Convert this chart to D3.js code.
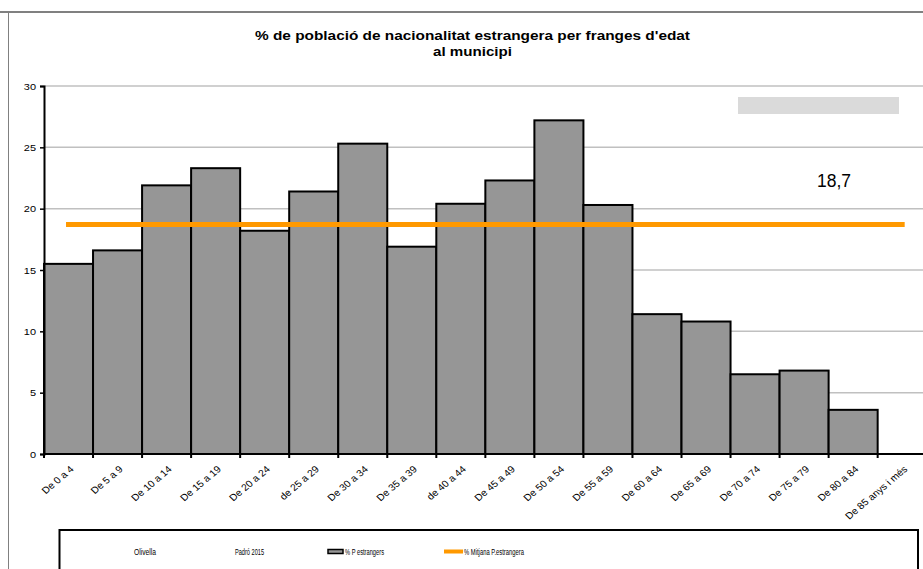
<!DOCTYPE html>
<html>
<head>
<meta charset="utf-8">
<script src="https://cdn.jsdelivr.net/npm/d3@7"></script>
<style>
  html, body { margin: 0; padding: 0; background: #fff; }
  svg { display: block; }
  text { font-family: "Liberation Sans", Arial, sans-serif; fill: #000; }
</style>
</head>
<body>
<svg id="chart" width="923" height="569"></svg>
<script>
const categories = ["De 0 a 4","De 5 a 9","De 10 a 14","De 15 a 19","De 20 a 24","de 25 a 29","De 30 a 34","De 35 a 39","de 40 a 44","De 45 a 49","De 50 a 54","De 55 a 59","De 60 a 64","De 65 a 69","De 70 a 74","De 75 a 79","De 80 a 84","De 85 anys i més"];
const pctEstrangers = [15.5, 16.6, 21.9, 23.3, 18.2, 21.4, 25.3, 16.9, 20.4, 22.3, 27.2, 20.3, 11.4, 10.8, 6.5, 6.8, 3.6, null];
const mitjana = 18.7;
const mitjanaLabel = "18,7";
const yTicks = [0, 5, 10, 15, 20, 25, 30];
const titleLines = ["% de població de nacionalitat estrangera per franges d'edat", "al municipi"];
const legendTexts = ["Olivella", "Padró 2015", "% P estrangers", "% Mitjana P.estrangera"];

const svg = d3.select("#chart");
const W = 923, H = 569;
const plot = {left: 44, right: 926.7, top: 86, bottom: 454};
const SX = 1.18; // horizontal stretch of the original rendering

const x = d3.scaleBand().domain(categories).range([plot.left, plot.right]).paddingInner(0).paddingOuter(0);
const y = d3.scaleLinear().domain([0, 30]).range([plot.bottom, plot.top]);

// outer frame
svg.append("line").attr("x1", 0).attr("x2", W).attr("y1", 12).attr("y2", 12)
  .attr("stroke", "#808080").attr("stroke-width", 2);
svg.append("line").attr("x1", 8.5).attr("x2", 8.5).attr("y1", 12).attr("y2", H)
  .attr("stroke", "#808080").attr("stroke-width", 1);

// title
const title = svg.append("text").attr("text-anchor", "middle")
  .attr("font-weight", "bold").attr("font-size", 13);
title.append("tspan").attr("x", 472.5).attr("y", 39.5).text(titleLines[0])
  .attr("textLength", 435).attr("lengthAdjust", "spacingAndGlyphs");
title.append("tspan").attr("x", 472.5).attr("y", 56).text(titleLines[1])
  .attr("textLength", 79).attr("lengthAdjust", "spacingAndGlyphs");

// gridlines
svg.append("g").selectAll("line").data(yTicks.filter(d => d > 0)).join("line")
  .attr("x1", plot.left).attr("x2", W)
  .attr("y1", d => y(d)).attr("y2", d => y(d))
  .attr("stroke", "#c0c0c0").attr("stroke-width", 1.5);

// grey placeholder box
svg.append("rect").attr("x", 738).attr("y", 97).attr("width", 161).attr("height", 17)
  .attr("fill", "#dadada");

// bars
svg.append("g").selectAll("rect").data(categories.map((c, i) => ({c, v: pctEstrangers[i]})).filter(d => d.v != null))
  .join("rect")
  .attr("x", d => x(d.c)).attr("width", x.bandwidth())
  .attr("y", d => y(d.v)).attr("height", d => y(0) - y(d.v))
  .attr("fill", "#969696").attr("stroke", "#000").attr("stroke-width", 2);

// y axis
const yAxis = svg.append("g").attr("transform", `translate(${plot.left},0)`)
  .call(d3.axisLeft(y).tickValues(yTicks).tickSize(4).tickPadding(0).tickFormat(d3.format("d")));
yAxis.select(".domain").attr("stroke", "#000").attr("stroke-width", 2);
yAxis.selectAll(".tick line").attr("stroke", "#000").attr("stroke-width", 1.5);
yAxis.selectAll(".tick text").remove();
yAxis.selectAll(".tick").append("text")
  .attr("text-anchor", "end").attr("font-size", 9.3).attr("dy", "0.35em")
  .attr("transform", `translate(-8,0) scale(${SX},1)`)
  .text(d => d);

// x axis
const xAxis = svg.append("g").attr("transform", `translate(0,${plot.bottom})`)
  .call(d3.axisBottom(x).tickSize(0).tickFormat(""));
xAxis.select(".domain").attr("stroke", "#000").attr("stroke-width", 2)
  .attr("d", `M${plot.left},0H${W}`);
// boundary ticks
svg.append("g").selectAll("line").data(categories.map(c => x(c)).concat([plot.right]))
  .join("line")
  .attr("x1", d => d).attr("x2", d => d)
  .attr("y1", plot.bottom).attr("y2", plot.bottom + 4)
  .attr("stroke", "#000").attr("stroke-width", 2);
// rotated labels
svg.append("g").selectAll("text").data(categories).join("text")
  .attr("text-anchor", "end").attr("font-size", 9.5)
  .attr("transform", d => `translate(${x(d) + x.bandwidth() / 2 + 6},${plot.bottom + 16}) scale(1.1,1) rotate(-43)`)
  .text(d => d);

// mean line
svg.append("line")
  .attr("x1", x(categories[0]) + x.bandwidth() / 2)
  .attr("x2", x(categories[categories.length - 1]) + x.bandwidth() / 2)
  .attr("y1", y(mitjana)).attr("y2", y(mitjana))
  .attr("stroke", "#ff9900").attr("stroke-width", 5).attr("stroke-linecap", "square");

svg.append("text").attr("x", 817).attr("y", 186.5).attr("font-size", 17.5).text(mitjanaLabel);

// legend
svg.append("rect").attr("x", 59.5).attr("y", 530).attr("width", 858.5).attr("height", 60)
  .attr("fill", "#fff").attr("stroke", "#000").attr("stroke-width", 2);
const lg = svg.append("g").attr("font-size", 8.5);
lg.append("text").attr("x", 134).attr("y", 555).text(legendTexts[0])
  .attr("textLength", 22).attr("lengthAdjust", "spacingAndGlyphs");
lg.append("text").attr("x", 235).attr("y", 555).text(legendTexts[1])
  .attr("textLength", 29).attr("lengthAdjust", "spacingAndGlyphs");
lg.append("rect").attr("x", 328).attr("y", 549.5).attr("width", 15).attr("height", 4)
  .attr("fill", "#969696").attr("stroke", "#000").attr("stroke-width", 1.5);
lg.append("text").attr("x", 345).attr("y", 555).text(legendTexts[2])
  .attr("textLength", 39).attr("lengthAdjust", "spacingAndGlyphs");
lg.append("line").attr("x1", 444).attr("x2", 463).attr("y1", 551.5).attr("y2", 551.5)
  .attr("stroke", "#ff9900").attr("stroke-width", 4);
lg.append("text").attr("x", 464).attr("y", 555).text(legendTexts[3])
  .attr("textLength", 60).attr("lengthAdjust", "spacingAndGlyphs");
</script>
</body>
</html>
